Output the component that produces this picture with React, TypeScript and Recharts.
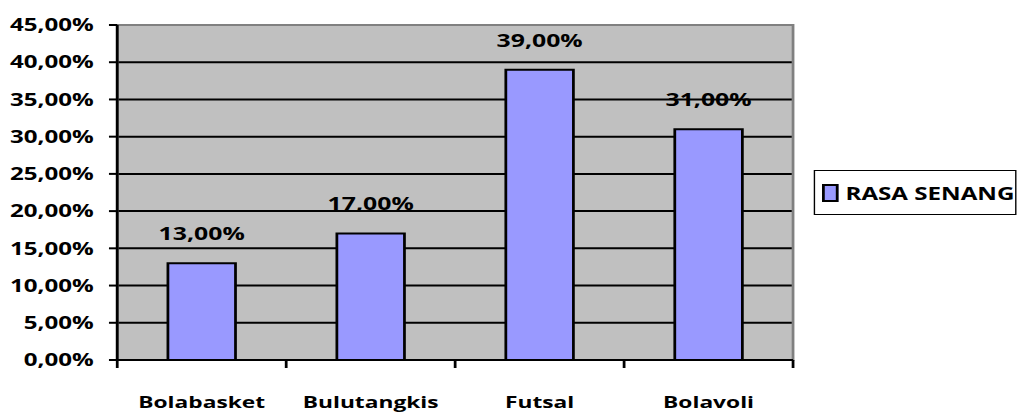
import React from 'react';
import { BarChart, Bar, XAxis, YAxis, CartesianGrid, LabelList, Legend, ReferenceArea } from 'recharts';

const categories = ['Bolabasket', 'Bulutangkis', 'Futsal', 'Bolavoli'];
const rasaSenang = [13, 17, 39, 31];
const yTicks = [0, 5, 10, 15, 20, 25, 30, 35, 40, 45];
const gridValues = [5, 10, 15, 20, 25, 30, 35, 40];
const seriesName = 'RASA SENANG';

const data = categories.map((name, i) => ({ name, value: rasaSenang[i] }));

const W = 741;
const H = 414;
const SX = 1022 / W;
const FONT = '"Open Sans", Lato, sans-serif';
const WEIGHT = 700;
const X_TICK_SIZE = 8;
const X_TICK_MARGIN = 28;

const fmt = (v: number) => `${Number(v).toFixed(2).replace('.', ',')}%`;

const XTick = (props: any) => {
  const { x, y, payload, index, visibleTicksCount } = props;
  const half = payload && payload.offset ? payload.offset : 61;
  const axisY = y - X_TICK_SIZE - X_TICK_MARGIN;
  const isLast = index === (visibleTicksCount ?? categories.length) - 1;
  return (
    <g>
      <line x1={x - half} x2={x - half} y1={axisY} y2={axisY + X_TICK_SIZE} stroke="#000" strokeWidth={2} />
      {isLast && (
        <line x1={x + half} x2={x + half} y1={axisY} y2={axisY + X_TICK_SIZE} stroke="#000" strokeWidth={2} />
      )}
      <text x={x} y={y} dy="0.71em" textAnchor="middle" fill="#000" fontSize={16.5} fontWeight={WEIGHT} fontFamily={FONT}>
        {payload.value}
      </text>
    </g>
  );
};

const LegendContent = () => (
  <div
    style={{
      boxSizing: 'border-box',
      width: 147,
      height: 45,
      border: '1.5px solid #000',
      background: '#fff',
      display: 'flex',
      alignItems: 'center',
      paddingLeft: 5,
      fontFamily: FONT,
      fontWeight: WEIGHT,
      fontSize: 17.5,
      color: '#000',
      whiteSpace: 'nowrap',
      overflow: 'visible',
    }}
  >
    <span
      style={{
        display: 'inline-block',
        flexShrink: 0,
        boxSizing: 'border-box',
        width: 12,
        height: 18,
        background: '#9999FF',
        border: '2px solid #000',
        marginRight: 5,
      }}
    />
    <span style={{ flexShrink: 0 }}>{seriesName}</span>
  </div>
);

export default function App() {
  return (
    <div
      style={{
        position: 'absolute',
        left: 0,
        top: 0,
        width: W,
        height: H,
        transform: `scaleX(${SX})`,
        transformOrigin: '0 0',
        background: '#fff',
        fontFamily: FONT,
      }}
    >
      <BarChart
        width={W}
        height={H}
        data={data}
        margin={{ top: 25, right: 166, bottom: 0, left: 0 }}
        barCategoryGap="30%"
      >
        <CartesianGrid
          fill="#C0C0C0"
          fillOpacity={1}
          vertical={false}
          horizontalValues={gridValues}
          stroke="#000"
          strokeWidth={2}
          strokeOpacity={1}
        />
        <ReferenceArea y1={0} y2={45} fill="none" stroke="#808080" strokeWidth={2} ifOverflow="visible" />
        <XAxis
          dataKey="name"
          height={54}
          axisLine={{ stroke: '#000', strokeWidth: 2 }}
          tickLine={false}
          tickSize={X_TICK_SIZE}
          tickMargin={X_TICK_MARGIN}
          tick={<XTick />}
          interval={0}
        />
        <YAxis
          width={85}
          domain={[0, 45]}
          ticks={yTicks}
          interval={0}
          tickFormatter={fmt}
          axisLine={{ stroke: '#000', strokeWidth: 2 }}
          tickLine={{ stroke: '#000', strokeWidth: 2 }}
          tickSize={6}
          tickMargin={11}
          tick={{ fill: '#000', fontSize: 17.5, fontWeight: WEIGHT, fontFamily: FONT }}
        />
        <Legend
          layout="horizontal"
          verticalAlign="middle"
          align="center"
          content={<LegendContent />}
          wrapperStyle={{ left: 590, top: 170, width: 147, height: 45 }}
        />
        <Bar dataKey="value" name={seriesName} fill="#9999FF" stroke="#000" strokeWidth={2} isAnimationActive={false}>
          <LabelList
            dataKey="value"
            position="top"
            offset={23}
            formatter={fmt}
            style={{ fill: '#000', fontSize: 18, fontWeight: WEIGHT, fontFamily: FONT }}
          />
        </Bar>
      </BarChart>
    </div>
  );
}
